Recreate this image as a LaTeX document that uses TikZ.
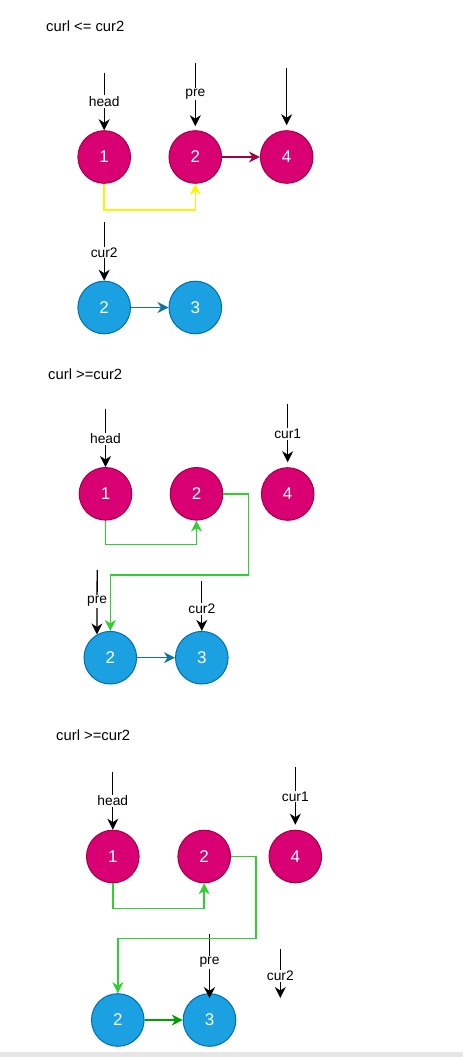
\documentclass[tikz,border=0pt]{standalone}
\usepackage{fontspec}
\setmainfont{Liberation Sans}
\usetikzlibrary{arrows.meta, positioning}

\definecolor{pinkFill}{HTML}{D80073}
\definecolor{pinkLine}{HTML}{A50040}
\definecolor{blueFill}{HTML}{1BA1E2}
\definecolor{blueLine}{HTML}{006EAF}
\definecolor{linkBlue}{HTML}{10739E}
\definecolor{grnLine}{HTML}{2FD02F}
\definecolor{grnDark}{HTML}{00A000}
\definecolor{barGray}{HTML}{E6E6E6}

\begin{document}
\begin{tikzpicture}[
			x=1pt, y=-1pt,
			pnode/.style={
				circle,
				draw=pinkLine,
				fill=pinkFill,
				line width=1pt,
				minimum size=52.6pt,
				inner sep=0pt,
				text=white,
				font=\fontsize{17}{20}\selectfont
			},
			bnode/.style={pnode, draw=blueLine, fill=blueFill},
			title/.style={anchor=west, inner sep=0pt, font=\fontsize{14.8}{17}\selectfont},
			lbl/.style={fill=white, inner sep=1pt, font=\fontsize{13.8}{16}\selectfont},
			ptr/.style={-{Stealth[length=11pt, width=11pt, inset=3.5pt]}, black, line width=1.3pt},
			link/.style={-{Stealth[length=11pt, width=11pt, inset=3.5pt]}, line width=1.3pt},
			grn/.style={link, grnLine, line width=1.5pt}
			]
			
			\useasboundingbox (0,0) rectangle (463,1057);
			\fill[barGray] (0,1052) rectangle (463,1057);
			
			% Step 1 - curl <= cur2
			\node[title] (t1) at (46,26) {curl <= cur2};
			\node[pnode] (s1a1) at (104.2,157) {1};
			\node[pnode] (s1a2) at (195.3,157) {2};
			\node[pnode] (s1a4) at (286.7,157) {4};
			\node[bnode] (s1b2) at (104.2,307.5) {2};
			\node[bnode] (s1b3) at (195.3,307.5) {3};
			
			\coordinate (s1h) at (104.2,72.7);
			\coordinate (s1p) at (195.3,63);
			\coordinate (s1c) at (286.7,68);
			\coordinate (s1k) at (104.2,222);
			
			\draw[ptr] (s1h) -- (s1a1) node[lbl, midway] {head};
			\draw[ptr, shorten >=4pt] (s1p) -- (s1a2) node[lbl, pos=0.46] {pre};
			\draw[ptr, shorten >=5pt] (s1c) -- (s1a4);
			\draw[ptr] (s1k) -- (s1b2) node[lbl, pos=0.52] {cur2};
			
			\draw[link, pinkLine] (s1a2) -- (s1a4);
			\draw[link, yellow, line width=1.6pt] (s1a1.south) -- ++(0,26) -| (s1a2.south);
			\draw[link, linkBlue] (s1b2) -- (s1b3);
			
			% Step 2 - curl >= cur2
			\node[title] (t2) at (48,374) {curl >=cur2};
			\node[pnode] (s2a1) at (105.5,493.8) {1};
			\node[pnode] (s2a2) at (196.5,493.8) {2};
			\node[pnode] (s2a4) at (287.7,494) {4};
			\node[bnode] (s2b2) at (110.3,657.7) {2};
			\node[bnode] (s2b3) at (201.8,657.7) {3};
			
			\coordinate (s2h) at (105.5,409);
			\coordinate (s2c) at (287.7,404);
			\coordinate (s2p) at (97.2,570);
			\coordinate (s2k) at (201.8,581);
			
			\draw[ptr] (s2h) -- (s2a1) node[lbl, pos=0.51] {head};
			\draw[ptr, shorten >=5pt] (s2c) -- (s2a4) node[lbl, pos=0.47] {cur1};
			\draw[ptr] (s2p) -- (s2b2.120) node[lbl, pos=0.49] {pre};
			\draw[ptr] (s2k) -- (s2b3) node[lbl, pos=0.56] {cur2};
			
			\draw[grn] (s2a1.south) -- ++(0,24) -| (s2a2.south);
			\draw[grn] (s2a2.east) -- ++(25.2,0) -- ++(0,81) -| (s2b2.north);
			\draw[link, linkBlue] (s2b2) -- (s2b3);
			
			% Step 3 - curl >= cur2
			\node[title] (t3) at (56,735) {curl >=cur2};
			\node[pnode] (s3a1) at (112.8,856.5) {1};
			\node[pnode] (s3a2) at (204.2,856.5) {2};
			\node[pnode] (s3a4) at (295.3,856.5) {4};
			\node[bnode] (s3b2) at (117.8,1020) {2};
			\node[bnode] (s3b3) at (209.5,1020) {3};
			
			\coordinate (s3h) at (112.8,772);
			\coordinate (s3c) at (295.3,767);
			\coordinate (s3p) at (209.5,934);
			\coordinate (s3k) at (280.3,949);
			\coordinate (s3ke) at (280.3,998);
			
			\draw[ptr] (s3h) -- (s3a1) node[lbl, midway] {head};
			\draw[ptr, shorten >=5pt] (s3c) -- (s3a4) node[lbl, pos=0.47] {cur1};
			\draw[ptr, shorten >=-5pt] (s3p) -- (s3b3) node[lbl, pos=0.48] {pre};
			\draw[ptr] (s3k) -- (s3ke) node[lbl, pos=0.55] {cur2};
			
			\draw[grn] (s3a1.south) -- ++(0,25) -| (s3a2.south);
			\draw[grn] (s3a2.east) -- ++(24.8,0) -- ++(0,81.8) -| (s3b2.north);
			\draw[link, grnDark] (s3b2) -- (s3b3);
			
		\end{tikzpicture}
\end{document}
